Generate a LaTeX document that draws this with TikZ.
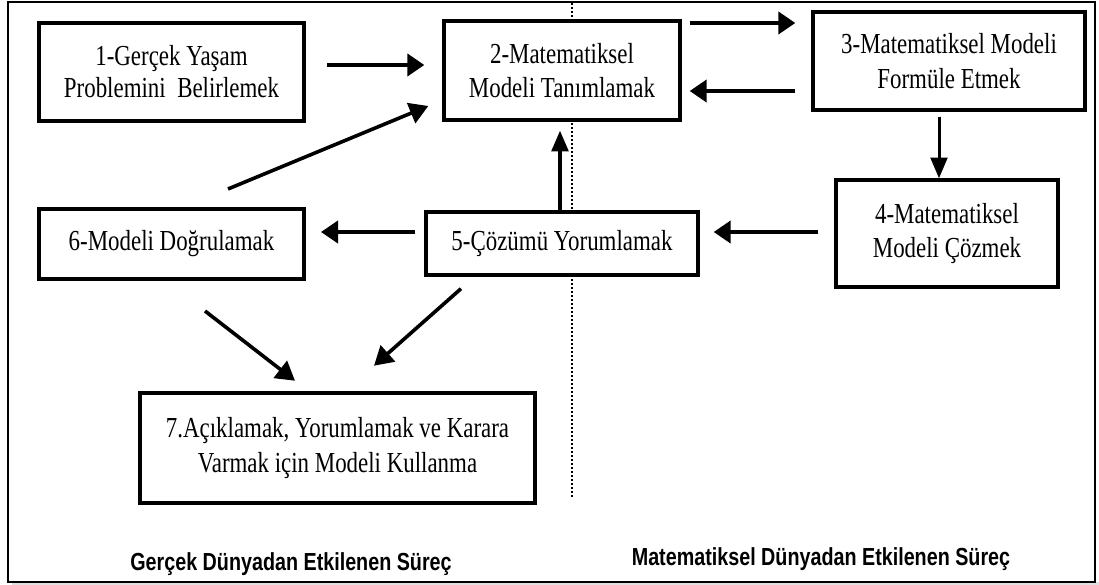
\documentclass[tikz,border=0pt]{standalone}
\usepackage{fontspec}
\setmainfont{Liberation Serif}[FakeStretch=0.79]
\newfontfamily\captionfont{Liberation Sans}[FakeStretch=0.8]
\usetikzlibrary{arrows.meta,calc}

\begin{document}
\begin{tikzpicture}[x=0.75pt,y=-0.75pt,
  box/.style={draw, line width=2.5pt, fill=white, inner sep=0pt, align=center,
    font=\fontsize{21.75pt}{26pt}\selectfont},
  harrow/.style={line width=3pt, -{Triangle[length=12.75pt,width=16.5pt]}},
  varrow/.style={line width=2.25pt, -{Triangle[length=15.5pt,width=12.5pt]}},
  darrow/.style={line width=2.7pt, -{Triangle[length=14pt,width=16pt]}},
  worldlabel/.style={font=\captionfont\bfseries\fontsize{18.5pt}{22pt}\selectfont,
    anchor=base, inner sep=0pt},
]
\useasboundingbox (0,0) rectangle (1099,585);

% outer frame with a faint shadow
\fill[black!12] (12,582) rectangle (1099,585);
\draw[line width=1.5pt, fill=white] (8,2) rectangle (1095,582);

% divider between the two worlds
\draw[line width=1.6pt, dash pattern=on 1.5pt off 1.5pt] (572,3) -- (572,498);

% process steps
\node[box, line width=3.4pt, minimum width=198.75pt, minimum height=73.5pt,
  font=\fontsize{21.75pt}{24pt}\selectfont] (b1) at (171.5,72)
  {1-Gerçek Yaşam\\Problemini~ Belirlemek};
\node[box, minimum width=177pt, minimum height=74.25pt] (b2) at (562,70.5)
  {2-Matematiksel\\Modeli Tanımlamak};
\node[box, minimum width=204pt, minimum height=73.5pt] (b3) at (949,61)
  {3-Matematiksel Modeli\\Formüle Etmek};
\node[box, minimum width=166.5pt, minimum height=80.25pt] (b4) at (947,233.5)
  {4-Matematiksel\\Modeli Çözmek};
\node[box, minimum width=204pt, minimum height=47.25pt] (b5) at (562,243.5)
  {5-Çözümü Yorumlamak};
\node[box, line width=3pt, minimum width=198.75pt, minimum height=52.5pt] (b6) at (171.5,244)
  {6-Modeli Doğrulamak};
\node[box, line width=3.4pt, minimum width=296.25pt, minimum height=82.5pt] (b7) at (337.5,448)
  {7.Açıklamak, Yorumlamak ve Karara\\Varmak için Modeli Kullanma};

% connectors
\draw[harrow] ($(b1.east)+(21,-7)$) -- ($(b2.west)+(-18,-5.5)$);
\draw[harrow] ($(b2.east)+(8,-47.5)$) -- ($(b3.west)+(-16,-38)$);
\draw[harrow] ($(b3.west)+(-16,30)$) -- ($(b2.east)+(8,20.5)$);
\draw[varrow] ($(b3.south)+(-10,5)$) -- ($(b4.north)+(-8,0)$);
\draw[harrow] ($(b4.west)+(-16,-1.5)$) -- ($(b5.east)+(14,-11.5)$);
\draw[varrow, line width=2.6pt] ($(b5.north)+(-2,0)$) -- ($(b2.south)+(-2,9)$);
\draw[harrow] ($(b5.west)+(-9,-11.5)$) -- ($(b6.east)+(15,-12)$);
\draw[darrow] ($(b6.north)+(56.5,-18)$) -- ($(b2.west)+(-14,35.5)$);
\draw[darrow] ($(b6.south)+(33.5,30)$) -- ($(b7.north)+(-42.5,-10)$);
\draw[darrow] ($(b5.south)+(-101,12)$) -- ($(b7.north)+(36.5,-25)$);

% world labels
\node[worldlabel] (realworld) at (291,570) {Gerçek Dünyadan Etkilenen Süreç};
\node[worldlabel] (mathworld) at (821,565) {Matematiksel Dünyadan Etkilenen Süreç};
\end{tikzpicture}
\end{document}
